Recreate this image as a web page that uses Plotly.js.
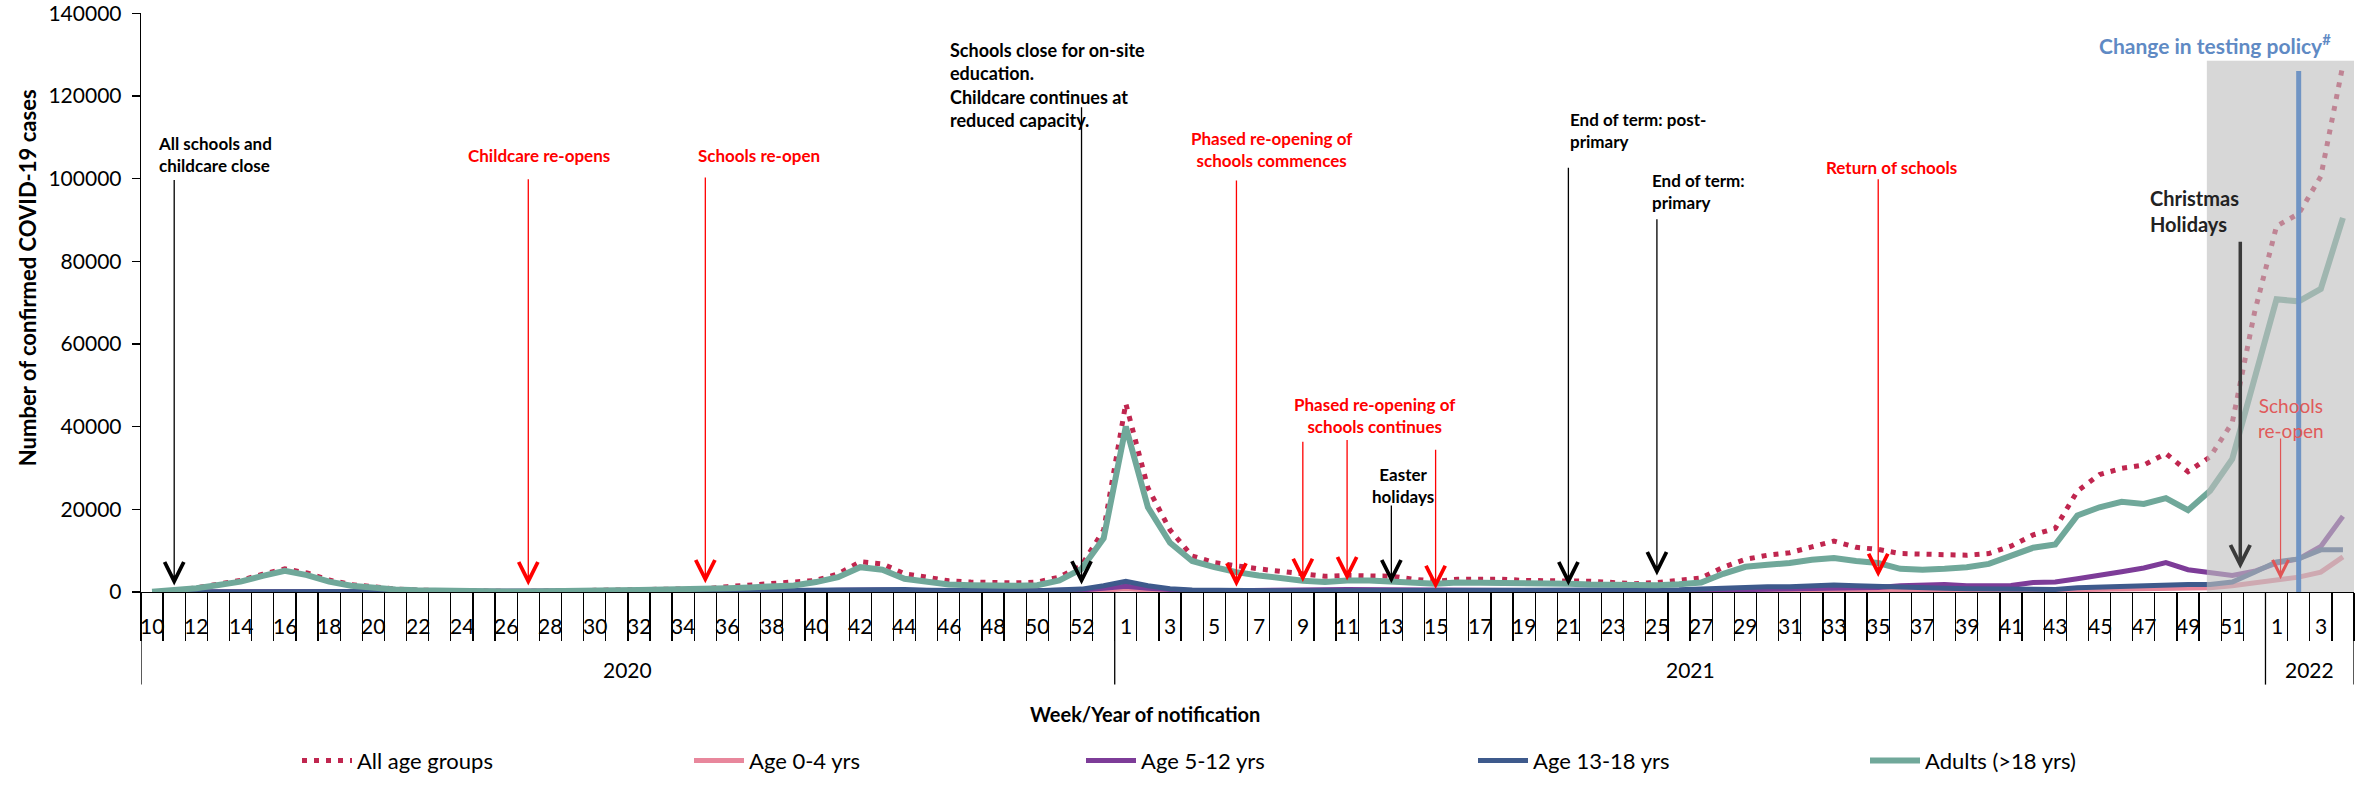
<!DOCTYPE html>
<html><head><meta charset="utf-8">
<script src="https://cdn.plot.ly/plotly-3.0.1.min.js"></script>
<style>html,body{margin:0;padding:0;background:#fff}#chart{width:2367px;height:793px}</style>
</head><body><div id="chart"></div>
<script>
// ---- categories ----
const weeks2020 = [10,11,12,13,14,15,16,17,18,19,20,21,22,23,24,25,26,27,28,29,30,31,32,33,34,35,36,37,38,39,40,41,42,43,44,45,46,47,48,49,50,51,52,53];
const weeks2021 = [1,2,3,4,5,6,7,8,9,10,11,12,13,14,15,16,17,18,19,20,21,22,23,24,25,26,27,28,29,30,31,32,33,34,35,36,37,38,39,40,41,42,43,44,45,46,47,48,49,50,51,52];
const weeks2022 = [1,2,3,4];
const yearLabels = ['2020','2021','2022'];

// ---- series (weekly confirmed cases) ----
const allAges = [
 100,300,1000,1900,2800,4300,5600,4600,2900,1800,1100,700,450,300,200,150,150,150,150,200,400,500,600,700,650,800,1300,1700,2000,2200,2800,4400,7300,6800,4400,3600,2700,2400,2200,2200,2400,3600,6400,15000,
 45600,25200,15000,8700,7100,6200,5600,5000,4400,3800,4000,4000,3800,3100,2600,3100,3200,3100,2800,2800,2800,2600,2300,2000,2300,2800,3400,6000,7900,8900,9500,10900,12300,10800,10300,9300,9100,9100,8900,9300,11100,13800,15400,24400,28400,29900,30700,33500,29100,32700,41000,67500,
 88500,91500,100500,127500];
const age0_4 = [
 0,0,0,20,30,40,50,40,30,20,10,10,10,10,10,10,10,10,10,10,10,10,10,10,10,10,50,60,80,100,120,150,200,200,150,120,100,100,100,100,100,150,250,450,
 800,500,300,200,150,150,150,150,200,200,200,200,200,200,150,150,150,150,150,150,150,150,150,150,150,200,250,300,350,400,400,450,450,450,450,450,450,400,400,400,400,450,500,600,700,800,900,1000,900,1000,1500,2200,
 3000,3600,4800,8500];
const age5_12 = [
 0,0,0,50,50,50,50,50,50,50,20,20,20,20,20,20,20,20,20,20,20,20,20,20,20,20,100,150,200,250,300,400,500,500,400,300,250,250,250,250,300,350,500,900,
 1400,900,500,300,250,250,250,300,450,550,600,550,500,400,350,350,350,350,350,350,350,300,300,300,300,350,400,500,600,600,650,700,800,900,1100,1500,1800,1800,1500,1500,1600,2300,2400,3200,4200,4900,5800,7100,5400,4600,4000,5000,
 7000,8000,11000,18300];
const age13_18 = [
 0,0,0,50,100,150,200,150,100,80,50,30,30,30,30,30,30,30,30,30,50,60,80,100,100,120,200,300,350,400,450,600,800,800,600,450,350,300,300,300,300,400,700,1500,
 2600,1500,800,500,400,350,300,300,300,300,350,400,400,350,300,350,400,400,400,400,400,400,400,400,450,550,700,1000,1200,1300,1300,1500,1700,1500,1300,1100,1000,900,800,700,600,600,600,1000,1200,1300,1600,1800,1800,1800,2400,4800,
 7300,8000,10200,10200];
const adults = [
 50,300,900,1700,2500,3900,5100,4100,2500,1500,900,600,400,250,150,120,120,120,120,150,300,400,500,550,500,600,900,1100,1300,1600,2400,3600,6000,5400,3200,2400,1800,1650,1500,1500,1650,2800,5600,13000,
 40000,20500,11900,7500,6000,4800,4000,3200,2700,2400,2800,2800,2600,2300,2000,2300,2300,2100,2100,2100,2000,1800,1650,1650,1650,1900,2300,4400,6100,6600,7000,7800,8200,7500,7000,5600,5400,5600,6000,6800,8700,10700,11500,18500,20500,21800,21300,22700,19800,24500,32200,51600,
 70800,70300,73300,90500];

// ---- build category axis ----
const groups = [[yearLabels[0], weeks2020],[yearLabels[1], weeks2021],[yearLabels[2], weeks2022]];
const cats = [], weekOf = [];
groups.forEach(([y, ws]) => ws.forEach(w => { cats.push(y + '-W' + w); weekOf.push(w); }));
const C = (y, w) => y + '-W' + w;

// ---- geometry helpers (pixel -> paper) ----
const W = 2367, H = 793, PL = 141, PR = 13, PT = 13, PB = 186;
const PW = W - PL - PR, PH = H - PT - PB;
const px = X => (X - PL) / PW;
const py = Y => (PT + PH - Y) / PH;

const FONT = 'Lato, "Open Sans", "DejaVu Sans", sans-serif';
const RED = '#ff0000';

const traces = [
  {name: 'All age groups', y: allAges, line: {color: '#c0264f', width: 5, dash: '5px,7px'}},
  {name: 'Age 0-4 yrs', y: age0_4, line: {color: '#e8879c', width: 5}},
  {name: 'Age 5-12 yrs', y: age5_12, line: {color: '#7d3c98', width: 5}},
  {name: 'Age 13-18 yrs', y: age13_18, line: {color: '#3e5a8c', width: 5}},
  {name: 'Adults (>18 yrs)', y: adults, line: {color: '#70a89a', width: 6}}
].map(t => Object.assign({x: cats, type: 'scatter', mode: 'lines', hoverinfo: 'skip'}, t));

function arrow(cat, tip, tail, color, width, size, head, xshift) {
  return {x: cat, y: tip, ax: cat, ay: tail, xref: 'x', yref: 'y', axref: 'x', ayref: 'y',
          text: '', showarrow: true, arrowhead: head || 5, arrowsize: size, arrowwidth: width,
          arrowcolor: color, xshift: xshift || 0};
}
function label(text, X, Y, color, anchor, size, bold) {
  return {text: bold === false ? text : '<b>' + text + '</b>', x: px(X), y: py(Y), xref: 'paper', yref: 'paper',
          xanchor: anchor, yanchor: 'middle', align: anchor === 'center' ? 'center' : 'left',
          showarrow: false, font: {family: FONT, size: size || 17, color: color}};
}

const annotations = [
  // event arrows
  arrow(C(2020,11), 1600, 100000, '#000', 1.3, 2.9),
  arrow(C(2020,27), 1600, 100200, RED, 1.3, 2.9),
  arrow(C(2020,35), 2100, 100600, RED, 1.3, 2.9),
  arrow(C(2020,52), 1800, 117600, '#000', 1.3, 2.9),
  arrow(C(2021,6), 1300, 99900, RED, 1.3, 2.9),
  arrow(C(2021,9), 2400, 36700, RED, 1.3, 2.9),
  arrow(C(2021,11), 2800, 37100, RED, 1.3, 2.9),
  arrow(C(2021,15), 700, 34800, RED, 1.3, 2.9),
  arrow(C(2021,13), 2100, 21300, '#000', 1.3, 2.9),
  arrow(C(2021,21), 1600, 103000, '#000', 1.3, 2.9),
  arrow(C(2021,25), 4000, 90500, '#000', 1.3, 2.9),
  arrow(C(2021,35), 3600, 100200, RED, 1.3, 2.9),
  arrow(C(2021,51), 5600, 85100, '#3a3a3a', 3.5, 1.1, 5, 8),
  arrow(C(2022,1), 3100, 37500, '#e05555', 1.2, 2.6, 5, 4),
  // event labels
  label('All schools and<br>childcare close', 156, 158, '#000', 'left'),
  label('Childcare re-opens', 539, 159, RED, 'center'),
  label('Schools re-open', 696, 159, RED, 'left'),
  label('Schools close for on-site<br>education.<br>Childcare continues at<br>reduced capacity.', 948, 87, '#000', 'left', 18),
  label('Phased re-opening of<br>schools commences', 1272, 153, RED, 'center'),
  label('Phased re-opening of<br>schools continues', 1375, 426, RED, 'center'),
  label('Easter<br>holidays', 1403, 498, '#000', 'center'),
  label('End of term: post-<br>primary', 1568, 134, '#000', 'left'),
  label('End of term:<br>primary', 1650, 196, '#000', 'left'),
  label('Return of schools', 1891, 171, RED, 'center'),
  label('Christmas<br>Holidays', 2148, 216, '#222', 'left', 20),
  label('Schools<br>re-open', 2291, 428, '#e05a5a', 'center', 19, false),
  label('Change in testing policy<sup>#</sup>', 2215, 45, '#5f8ac4', 'center', 21),
  // axis titles
  {text: '<b>Number of confirmed COVID-19 cases</b>', x: px(27), y: py(285), xref: 'paper', yref: 'paper',
   textangle: -90, showarrow: false, xanchor: 'center', yanchor: 'middle', font: {family: FONT, size: 22, color: '#000'}},
  {text: '<b>Week/Year of notification</b>', x: px(1145), y: py(732), xref: 'paper', yref: 'paper',
   showarrow: false, xanchor: 'center', yanchor: 'middle', font: {family: FONT, size: 20, color: '#000'}}
];

// week tick labels (every other week), drawn between the long tick marks
cats.forEach((c, i) => {
  if (i % 2 === 0) annotations.push({text: String(weekOf[i]), x: c, y: py(641), xref: 'x', yref: 'paper',
    showarrow: false, xanchor: 'center', yanchor: 'middle', font: {family: FONT, size: 21, color: '#000'}});
});

// year group labels and dividers
const shapes = [];
let start = 0;
groups.forEach(([y, ws]) => {
  const s = start - 0.5, e = start + ws.length - 0.5;
  annotations.push({text: y, x: (s + e) / 2, y: py(687), xref: 'x', yref: 'paper', showarrow: false,
    xanchor: 'center', yanchor: 'middle', font: {family: FONT, size: 21, color: '#000'}});
  shapes.push({type: 'line', xref: 'x', yref: 'paper', x0: s, x1: s, y0: 0, y1: py(702), line: {color: '#000', width: 1.3}});
  start += ws.length;
});
shapes.push({type: 'line', xref: 'x', yref: 'paper', x0: start - 0.5, x1: start - 0.5, y0: 0, y1: py(702), line: {color: '#000', width: 1.3}});

// shaded period of the testing policy change and the policy marker
const shadeStart = cats.indexOf(C(2021,49)) + 0.85;
shapes.push({type: 'rect', xref: 'x', yref: 'y', x0: shadeStart, x1: cats.length - 0.5, y0: 0, y1: 128500,
  fillcolor: 'rgba(190,190,190,0.62)', line: {width: 0}, layer: 'above'});
shapes.push({type: 'line', xref: 'x', yref: 'y', x0: C(2022,2), x1: C(2022,2), y0: 0, y1: 126000,
  line: {color: '#7094c4', width: 5}, layer: 'above'});

const layout = {
  width: W, height: H,
  margin: {l: PL, r: PR, t: PT, b: PB},
  paper_bgcolor: '#fff', plot_bgcolor: '#fff',
  font: {family: FONT, color: '#000'},
  showlegend: true,
  legend: {orientation: 'h', x: px(297), xanchor: 'left', y: py(780), yanchor: 'middle',
           entrywidth: 327, entrywidthmode: 'pixels', itemwidth: 50,
           font: {family: FONT, size: 22, color: '#000'}, traceorder: 'normal'},
  xaxis: {type: 'category', categoryorder: 'array', categoryarray: cats, range: [-0.5, cats.length - 0.5],
          tickvals: cats, ticktext: cats.map(() => ''), showticklabels: false,
          tickson: 'boundaries', ticks: 'outside', ticklen: 48,
          tickcolor: '#000', tickwidth: 1.3,
          showline: true, linecolor: '#000', linewidth: 1.3, showgrid: false, zeroline: false},
  yaxis: {range: [0, 140050], tickvals: [0,20000,40000,60000,80000,100000,120000,140000], tickformat: 'd',
          ticks: 'outside', ticklen: 8, ticklabelstandoff: 6, ticklabeloverflow: 'allow',
          tickcolor: '#000', tickwidth: 1.3, showline: true, linecolor: '#000', linewidth: 1.3,
          showgrid: false, zeroline: false, tickfont: {family: FONT, size: 21, color: '#000'}},
  annotations: annotations,
  shapes: shapes
};

Plotly.newPlot('chart', traces, layout, {staticPlot: true, displayModeBar: false});
</script>
</body></html>
